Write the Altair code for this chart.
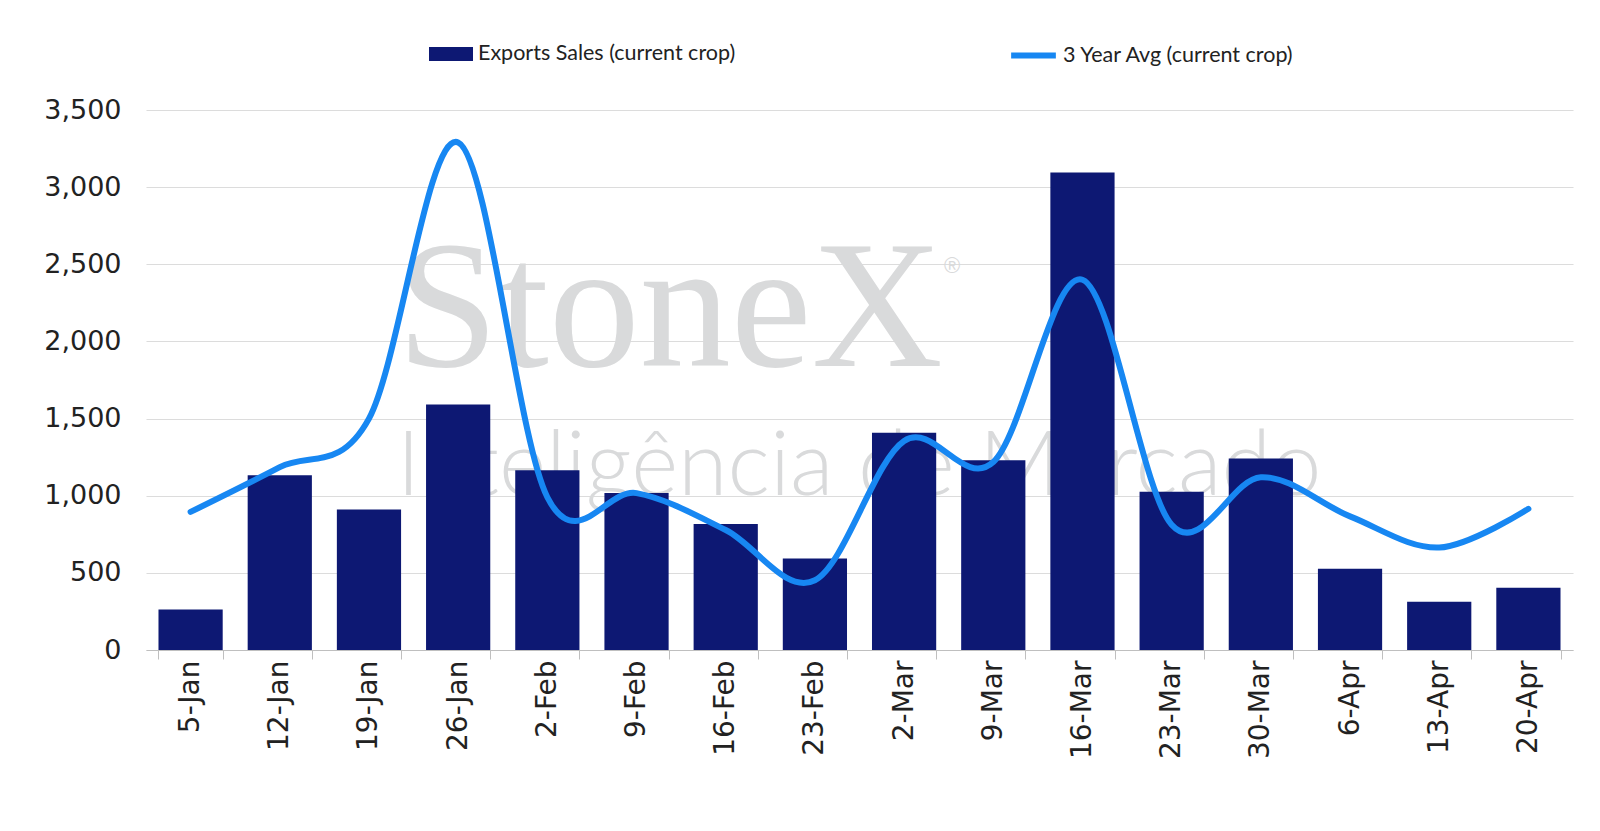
import altair as alt
import pandas as pd

weeks = ["5-Jan", "12-Jan", "19-Jan", "26-Jan", "2-Feb", "9-Feb", "16-Feb", "23-Feb",
         "2-Mar", "9-Mar", "16-Mar", "23-Mar", "30-Mar", "6-Apr", "13-Apr", "20-Apr"]
exports = [262, 1133, 910, 1592, 1165, 1018, 816, 593,
           1408, 1230, 3095, 1026, 1241, 527, 313, 403]
avg3 = [895, 1185, 1500, 3290, 990, 1017, 778, 452,
        1355, 1218, 2400, 812, 1120, 866, 664, 915]

S1 = "Exports Sales (current crop)"
S2 = "3 Year Avg (current crop)"
NAVY = "#0d1873"
BLUE = "#1787f2"
FONT = "Lato"
AXFONT = "DejaVu Sans"

df = pd.DataFrame({"week": weeks, "exports": exports, "avg": avg3, "s1": S1, "s2": S2})

wm1 = pd.DataFrame({"t": ["StoneX"]})
wm2 = pd.DataFrame({"t": ["®"]})
wm3 = pd.DataFrame({"t": ["Inteligência de Mercado"]})

x_enc = alt.X(
    "week:N", sort=weeks, title=None,
    scale=alt.Scale(paddingInner=0.28, paddingOuter=0.14),
    axis=alt.Axis(labelAngle=-90, tickBand="extent", labelFontSize=28, labelFont=AXFONT,
                  labelColor="#222222", domainColor="#bfbfbf", tickColor="#bfbfbf",
                  tickSize=9, labelPadding=1, grid=False),
)
y_enc = alt.Y(
    "exports:Q", title=None,
    scale=alt.Scale(domain=[0, 3500], nice=False),
    axis=alt.Axis(values=[0, 500, 1000, 1500, 2000, 2500, 3000, 3500], format=",d",
                  labelFontSize=27, labelFont=AXFONT, labelColor="#222222", domain=False,
                  ticks=False, gridColor="#dcdcdc", gridWidth=1.2, labelPadding=25),
)

watermark = alt.layer(
    alt.Chart(wm1).mark_text(font="Liberation Serif", fontSize=182, color="#d9dadb",
                             align="center", baseline="alphabetic")
    .encode(x=alt.value(524), y=alt.value(256), text="t:N"),
    alt.Chart(wm2).mark_text(font="Liberation Sans", fontSize=22, color="#d9dadb",
                             align="center", baseline="middle")
    .encode(x=alt.value(806), y=alt.value(156), text="t:N"),
    alt.Chart(wm3).mark_text(font=FONT, fontWeight=300, fontSize=90, color="#d9dadb",
                             align="center", baseline="alphabetic")
    .encode(x=alt.value(713), y=alt.value(385), text="t:N"),
)

bars = alt.Chart(df).mark_bar().encode(
    x=x_enc,
    y=y_enc,
    fill=alt.Fill("s1:N", title=None,
                  scale=alt.Scale(domain=[S1], range=[NAVY]),
                  legend=alt.Legend(orient="none", legendX=283, legendY=-78,
                                    symbolType="M-1,-0.32H1V0.32H-1Z", symbolSize=1936,
                                    symbolStrokeWidth=0, labelFontSize=21.5, labelFont=FONT,
                                    labelColor="#222222", labelOffset=5, labelLimit=500)),
)

line = alt.Chart(df).mark_line(interpolate="cardinal", strokeWidth=6, strokeCap="round").encode(
    x=alt.X("week:N", sort=weeks),
    y=alt.Y("avg:Q"),
    stroke=alt.Stroke("s2:N", title=None,
                      scale=alt.Scale(domain=[S2], range=[BLUE]),
                      legend=alt.Legend(orient="none", legendX=862, legendY=-80,
                                        symbolType="stroke", symbolSize=2000,
                                        symbolStrokeWidth=6, labelFontSize=21.5, labelFont=FONT,
                                        labelColor="#222222", labelOffset=4, labelLimit=500)),
)

chart = alt.layer(watermark, bars, line).resolve_scale(fill="independent", stroke="independent").properties(
    width=1427, height=540,
    autosize=alt.AutoSizeParams(type="none"),
    padding={"left": 138, "top": 102, "right": 15, "bottom": 130},
).configure_view(stroke=None)

chart.save("out.html", embed_options={"renderer": "svg", "actions": False})
